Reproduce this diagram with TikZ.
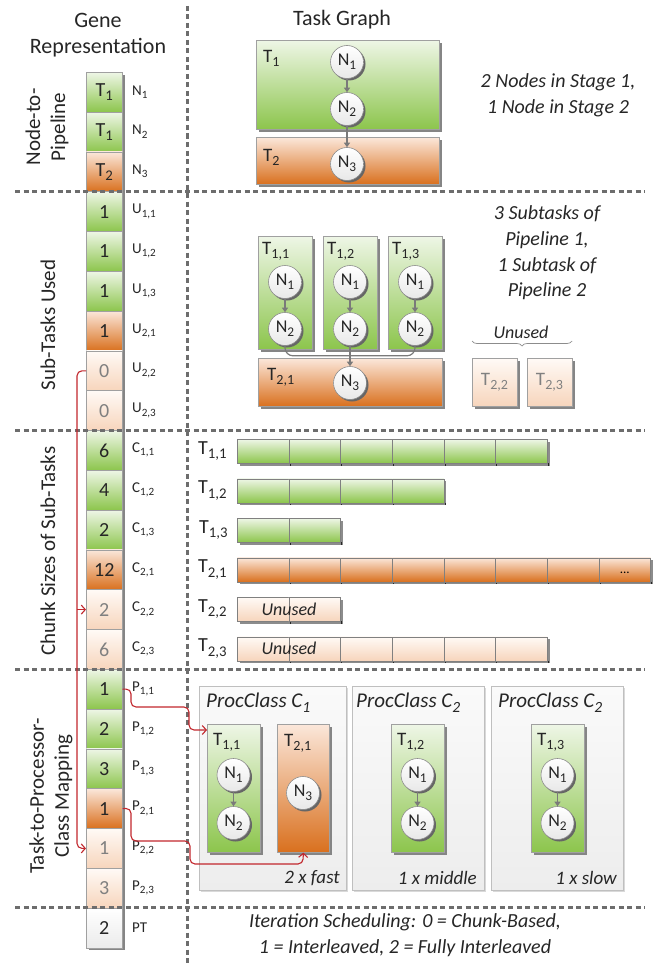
\documentclass[tikz,border=0pt]{standalone}
\usepackage{fontspec}
\setmainfont{Carlito}
\usetikzlibrary{arrows.meta,shadows,decorations.pathreplacing}

\definecolor{greenTop}{HTML}{EEF6E6}
\definecolor{greenBot}{HTML}{8CC54C}
\definecolor{orangeTop}{HTML}{FBE7DA}
\definecolor{orangeBot}{HTML}{D9701E}
\definecolor{paleTop}{HTML}{FFFAF6}
\definecolor{paleBot}{HTML}{F7D5BC}
\definecolor{divGray}{HTML}{6D6D6D}
\definecolor{edgeGray}{HTML}{A0A0A0}
\definecolor{arrowGray}{HTML}{7A7A7A}
\definecolor{linkRed}{HTML}{C1272D}
\definecolor{fadedText}{HTML}{808080}
\definecolor{classTop}{HTML}{FAFAFA}
\definecolor{classBot}{HTML}{EDEDED}
\definecolor{textDark}{HTML}{262626}

% subscript scaled from the current font size
\newcommand{\idx}[1]{\raisebox{-0.22em}{\scalebox{0.74}{#1}}}
\newcommand{\fsz}[1]{\fontsize{#1}{#1}\selectfont}

\tikzset{
  greenfill/.style={top color=greenTop, bottom color=greenBot},
  orangefill/.style={top color=orangeTop, bottom color=orangeBot},
  palefill/.style={top color=paleTop, bottom color=paleBot},
  plainfill/.style={top color=white, bottom color=black!8},
  boxshadow/.style={drop shadow={shadow xshift=2.5pt, shadow yshift=-2.5pt, opacity=1, fill=black!48}},
  lightshadow/.style={drop shadow={shadow xshift=2pt, shadow yshift=-2pt, opacity=1, fill=black!15}},
  genecell/.style={draw=edgeGray, line width=0.6pt, boxshadow, minimum width=36pt, minimum height=39.8pt, inner sep=0pt, anchor=north west, font=\fsz{20}, text=textDark},
  faded/.style={text=fadedText},
  genetagstyle/.style={anchor=west, font=\fsz{15}, inner sep=0pt, text=textDark},
  taskbox/.style={draw=edgeGray, line width=0.6pt, boxshadow, inner sep=0pt, anchor=north west},
  tasklabel/.style={font=\fsz{19}, inner sep=0pt, text=textDark},
  nodecirc/.style={circle, draw=black!45, line width=0.6pt, top color=white, bottom color=black!9, minimum size=33pt, inner sep=0pt, font=\fsz{18}, text=textDark, drop shadow={shadow xshift=2pt, shadow yshift=-2pt, opacity=1, fill=black!60}},
  flow/.style={draw=arrowGray, line width=1.2pt, -{Triangle[length=4.5pt,width=6pt]}},
  flowline/.style={draw=arrowGray, line width=1.2pt, rounded corners=8pt},
  sectionrule/.style={draw=divGray, line width=3pt, dash pattern=on 5pt off 3.5pt},
  redlink/.style={draw=linkRed, line width=1.1pt, rounded corners=5pt},
  redtip/.style={-{Straight Barb[length=4pt,width=9pt]}},
  heading/.style={font=\fsz{22}, text=textDark, inner sep=0pt},
  sidelabel/.style={font=\fontsize{21}{25}\selectfont, rotate=90, align=center, text=textDark, inner sep=0pt},
  note/.style={font=\fontsize{20}{25.7}\selectfont\itshape, align=center, text=textDark, inner sep=0pt},
  chunk/.style={draw=black!50, line width=0.6pt, minimum width=51.67pt, minimum height=24pt, inner sep=0pt, anchor=north west},
  classbox/.style={draw=black!25, line width=0.6pt, top color=classTop, bottom color=classBot, lightshadow, inner sep=0pt, anchor=north west, minimum height=204pt},
  bracestyle/.style={draw=black!45, line width=0.7pt, decorate, decoration={brace, amplitude=5pt, mirror}},
}

% one cell of the gene column: name, index, fill, text
\newcommand{\genebox}[4]{\node[genecell,#3] (#1) at (86,72+39.8*#2) {#4};}
% tag to the right of a gene cell: index, text
\newcommand{\genetag}[2]{\node[genetagstyle] at (132,91.9+39.8*#1) {#2};}
% a row of chunks: name, top, count, fill
\newcommand{\chunkrow}[4]{%
  \fill[black!45] (239.5,#2+2.5) rectangle (237+#3*51.67+2.5,#2+26.5);
  \foreach \k in {1,...,#3}{
    \node[chunk,#4] (#1-\k) at (237+\k*51.67-51.67,#2) {};
    \draw[black!85, line width=0.8pt] (238.5+\k*51.67,#2+24) -- (238.5+\k*51.67,#2+26.5);
  }
}

\begin{document}
\begin{tikzpicture}[x=1pt,y=-1pt]
\useasboundingbox (0,0) rectangle (668,963);

% ---------- headings ----------
\node[heading] (hGene) at (98,20) {Gene};
\node[heading] (hRep) at (98,48) {Representation};
\node[heading] (hTask) at (342,20) {Task Graph};

% ---------- side labels ----------
\node[sidelabel] (sl1) at (47,127) {Node-to-\\Pipeline};
\node[sidelabel] (sl2) at (48,325) {Sub-Tasks Used};
\node[sidelabel] (sl3) at (48,551) {Chunk Sizes of Sub-Tasks};
\node[sidelabel] (sl4) at (51,796) {Task-to-Processor-\\Class Mapping};

% ---------- gene column ----------
\genebox{gn1}{0}{greenfill}{T\idx{1}}
\genebox{gn2}{1}{greenfill}{T\idx{1}}
\genebox{gn3}{2}{orangefill}{T\idx{2}}
\genebox{u11}{3}{greenfill}{1}
\genebox{u12}{4}{greenfill}{1}
\genebox{u13}{5}{greenfill}{1}
\genebox{u21}{6}{orangefill}{1}
\genebox{u22}{7}{palefill,faded}{0}
\genebox{u23}{8}{palefill,faded}{0}
\genebox{c11}{9}{greenfill}{6}
\genebox{c12}{10}{greenfill}{4}
\genebox{c13}{11}{greenfill}{2}
\genebox{c21}{12}{orangefill}{12}
\genebox{c22}{13}{palefill,faded}{2}
\genebox{c23}{14}{palefill,faded}{6}
\genebox{p11}{15}{greenfill}{1}
\genebox{p12}{16}{greenfill}{2}
\genebox{p13}{17}{greenfill}{3}
\genebox{p21}{18}{orangefill}{1}
\genebox{p22}{19}{palefill,faded}{1}
\genebox{p23}{20}{palefill,faded}{3}
\genebox{pt}{21}{plainfill}{2}

\genetag{0}{N\idx{1}}
\genetag{1}{N\idx{2}}
\genetag{2}{N\idx{3}}
\genetag{3}{U\idx{1,1}}
\genetag{4}{U\idx{1,2}}
\genetag{5}{U\idx{1,3}}
\genetag{6}{U\idx{2,1}}
\genetag{7}{U\idx{2,2}}
\genetag{8}{U\idx{2,3}}
\genetag{9}{C\idx{1,1}}
\genetag{10}{C\idx{1,2}}
\genetag{11}{C\idx{1,3}}
\genetag{12}{C\idx{2,1}}
\genetag{13}{C\idx{2,2}}
\genetag{14}{C\idx{2,3}}
\genetag{15}{P\idx{1,1}}
\genetag{16}{P\idx{1,2}}
\genetag{17}{P\idx{1,3}}
\genetag{18}{P\idx{2,1}}
\genetag{19}{P\idx{2,2}}
\genetag{20}{P\idx{2,3}}
\genetag{21}{PT}

% ---------- task graph ----------
\node[taskbox, greenfill, minimum width=183pt, minimum height=89pt] (tg1) at (256,40) {};
\node[taskbox, orangefill, minimum width=183pt, minimum height=47pt] (tg2) at (256,137) {};
\node[tasklabel, anchor=west] (tg1l) at (263,58) {T\idx{1}};
\node[tasklabel, anchor=west] (tg2l) at (263,157) {T\idx{2}};
\node[nodecirc] (n1) at (347,62) {N\idx{1}};
\node[nodecirc] (n2) at (347,109) {N\idx{2}};
\node[nodecirc] (n3) at (347,164) {N\idx{3}};
\draw[flow] (n1) -- (n2);
\draw[flow] (n2) -- (n3);
\node[note] (note1) at (558,95) {2 Nodes in Stage 1,\\1 Node in Stage 2};

% ---------- sub-tasks ----------
\node[taskbox, greenfill, minimum width=54pt, minimum height=113pt] (s11) at (258,236) {};
\node[taskbox, greenfill, minimum width=54pt, minimum height=113pt] (s12) at (323,236) {};
\node[taskbox, greenfill, minimum width=54pt, minimum height=113pt] (s13) at (388,236) {};
\node[taskbox, orangefill, minimum width=184pt, minimum height=48pt] (s21) at (258,358) {};
\node[taskbox, palefill, minimum width=45pt, minimum height=48pt] (s22) at (472,358) {};
\node[taskbox, palefill, minimum width=45pt, minimum height=48pt] (s23) at (527,358) {};
\node[tasklabel, anchor=west] (s11l) at (262,251) {T\idx{1,1}};
\node[tasklabel, anchor=west] (s12l) at (327,251) {T\idx{1,2}};
\node[tasklabel, anchor=west] (s13l) at (392,251) {T\idx{1,3}};
\node[tasklabel, anchor=west] (s21l) at (267,377) {T\idx{2,1}};
\node[tasklabel, faded] (s22l) at (494.5,382) {T\idx{2,2}};
\node[tasklabel, faded] (s23l) at (549.5,382) {T\idx{2,3}};
\node[nodecirc] (s11a) at (285,282) {N\idx{1}};
\node[nodecirc] (s11b) at (285,329) {N\idx{2}};
\node[nodecirc] (s12a) at (350,282) {N\idx{1}};
\node[nodecirc] (s12b) at (350,329) {N\idx{2}};
\node[nodecirc] (s13a) at (415,282) {N\idx{1}};
\node[nodecirc] (s13b) at (415,329) {N\idx{2}};
\node[nodecirc] (s21c) at (350,383) {N\idx{3}};
\draw[flow] (s11a) -- (s11b);
\draw[flow] (s12a) -- (s12b);
\draw[flow] (s13a) -- (s13b);
\draw[flowline] (s11b.south) |- ([yshift=-10pt]s12b.south);
\draw[flowline] (s13b.south) |- ([yshift=-10pt]s12b.south);
\draw[flow] (s12b) -- (s21c);
\draw[bracestyle] (472,341) -- (572,341);
\node[note, font=\fsz{18}\itshape] (unusedTag) at (521,332) {Unused};
\node[note] (note2) at (547,253) {3 Subtasks of\\Pipeline 1,\\1 Subtask of\\Pipeline 2};

% ---------- chunk rows ----------
\node[tasklabel, anchor=west, font=\fsz{20}] (r11l) at (198,451) {T\idx{1,1}};
\node[tasklabel, anchor=west, font=\fsz{20}] (r12l) at (198,490.5) {T\idx{1,2}};
\node[tasklabel, anchor=west, font=\fsz{20}] (r13l) at (199,530) {T\idx{1,3}};
\node[tasklabel, anchor=west, font=\fsz{20}] (r21l) at (198,569.5) {T\idx{2,1}};
\node[tasklabel, anchor=west, font=\fsz{20}] (r22l) at (198,609) {T\idx{2,2}};
\node[tasklabel, anchor=west, font=\fsz{20}] (r23l) at (198,648.5) {T\idx{2,3}};
\chunkrow{r11}{439}{6}{greenfill}
\chunkrow{r12}{478.5}{4}{greenfill}
\chunkrow{r13}{518}{2}{greenfill}
\chunkrow{r21}{557.5}{8}{orangefill}
\chunkrow{r22}{597}{2}{palefill}
\chunkrow{r23}{636.5}{6}{palefill}
\node[font=\fsz{13}, inner sep=0pt] (dots) at ([yshift=-3pt]r21-8.center) {...};
\node[note, font=\fsz{18}\itshape] (un22) at (289,609) {Unused};
\node[note, font=\fsz{18}\itshape] (un23) at (289,648.5) {Unused};

% ---------- processor classes ----------
\node[classbox, minimum width=147pt] (pc1) at (199,686) {};
\node[classbox, minimum width=132pt] (pc2) at (352,686) {};
\node[classbox, minimum width=132pt] (pc3) at (491,686) {};
\node[note, font=\fsz{21}\itshape, anchor=west] (pc1t) at (206,703) {ProcClass C\idx{1}};
\node[note, font=\fsz{21}\itshape, anchor=west] (pc2t) at (356,703) {ProcClass C\idx{2}};
\node[note, font=\fsz{21}\itshape, anchor=west] (pc3t) at (498,703) {ProcClass C\idx{2}};
\node[note, font=\fsz{19}\itshape, anchor=east] (pc1b) at (340,878) {2 x fast};
\node[note, font=\fsz{19}\itshape, anchor=east] (pc2b) at (477,878) {1 x middle};
\node[note, font=\fsz{19}\itshape, anchor=east] (pc3b) at (617,878) {1 x slow};

\node[taskbox, greenfill, minimum width=53pt, minimum height=128pt] (q11) at (207,724) {};
\node[taskbox, orangefill, minimum width=52pt, minimum height=128pt] (q21) at (277,724) {};
\node[taskbox, greenfill, minimum width=53pt, minimum height=128pt] (q12) at (391,724) {};
\node[taskbox, greenfill, minimum width=53pt, minimum height=128pt] (q13) at (531,724) {};
\node[tasklabel, anchor=west] (q11l) at (213,742) {T\idx{1,1}};
\node[tasklabel, anchor=west] (q21l) at (284,743) {T\idx{2,1}};
\node[tasklabel, anchor=west] (q12l) at (397,742) {T\idx{1,2}};
\node[tasklabel, anchor=west] (q13l) at (537,742) {T\idx{1,3}};
\node[nodecirc] (q11a) at (233.5,775) {N\idx{1}};
\node[nodecirc] (q11b) at (233.5,823) {N\idx{2}};
\node[nodecirc] (q21c) at (303,793) {N\idx{3}};
\node[nodecirc] (q12a) at (417.5,775) {N\idx{1}};
\node[nodecirc] (q12b) at (417.5,823) {N\idx{2}};
\node[nodecirc] (q13a) at (557.5,775) {N\idx{1}};
\node[nodecirc] (q13b) at (557.5,823) {N\idx{2}};
\draw[flow] (q11a) -- (q11b);
\draw[flow] (q12a) -- (q12b);
\draw[flow] (q13a) -- (q13b);

% ---------- scheduling note ----------
\node[note] (sched) at (405,935) {Iteration Scheduling: 0 = Chunk-Based,\\1 = Interleaved, 2 = Fully Interleaved};

% ---------- section rules ----------
\draw[sectionrule] (187,6) -- (187,963);
\draw[sectionrule] (15,191.4) -- (645,191.4);
\draw[sectionrule] (15,430.2) -- (645,430.2);
\draw[sectionrule] (15,669) -- (645,669);
\draw[sectionrule] (15,907.8) -- (645,907.8);

% ---------- red links ----------
\coordinate (trunk) at (77,0);
\draw[redlink, redtip] (u22.west) -- (trunk |- u22.west) -- (trunk |- p22.west) -- (p22.west);
\draw[redlink, redtip] (trunk |- c22.west) -- (c22.west);
\draw[redlink, redtip] (p11.east) -- (131,688.9) -- (131,707) -- (189,707) -- (189,730) -- ([yshift=-6pt]q11.north west);
\draw[redlink, redtip] (p21.east) -- (131,808.3) -- (131,841) -- (190,841) -- (190,864) -- (303,864) -- (q21.south);
\end{tikzpicture}
\end{document}
